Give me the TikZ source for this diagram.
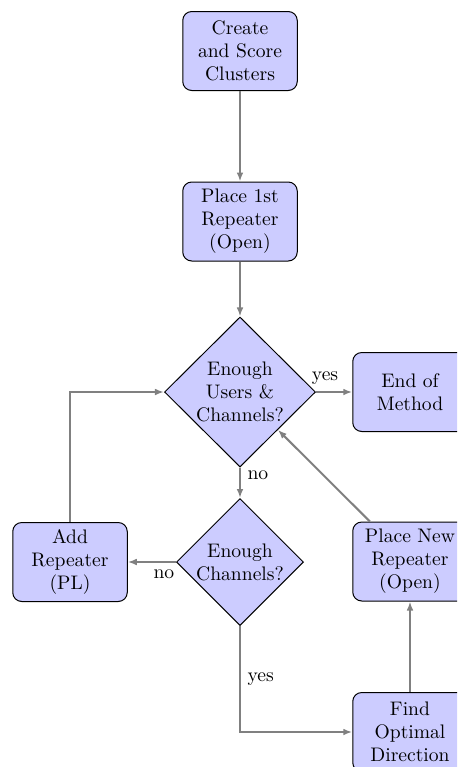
\documentclass[tikz,border=0pt]{standalone}
\usetikzlibrary{shapes.geometric,arrows.meta}
\begin{document}
\begin{tikzpicture}[
  x=0.5pt, y=-0.5pt,
  font=\fontsize{9.8pt}{11.5pt}\selectfont,
  block/.style={rectangle, draw=black, line width=0.5pt, fill=blue!20,
    rounded corners=4.5pt, align=center, inner sep=0pt,
    minimum width=57.25pt, minimum height=39.5pt},
  decision/.style={diamond, draw=black, line width=0.5pt, fill=blue!20,
    align=center, inner sep=-6pt},
  bigdec/.style={decision, minimum width=75.5pt, minimum height=75pt},
  smalldec/.style={decision, minimum width=63.5pt, minimum height=63.5pt},
  link/.style={draw=gray, line width=1pt, -{Latex[length=4.5pt,width=3.4pt]}},
  lbl/.style={inner sep=3.3pt}
]
\useasboundingbox (0,0) rectangle (457,767);
\clip (0,0) rectangle (457,767);

% process boxes and decisions
\node[block] (create) at (240,51) {Create\\and Score\\Clusters};
\node[block] (first)  at (240,221.5) {Place 1st\\Repeater\\(Open)};
\node[bigdec] (enough) at (240,392) {Enough\\Users \&\\Channels?};
\node[block] (stop)   at (410,392) {End of\\Method};
\node[smalldec] (chan) at (240,562) {Enough\\Channels?};
\node[block] (addrep) at (70,562) {Add\\Repeater\\(PL)};
\node[block] (newrep) at (410,561.5) {Place New\\Repeater\\(Open)};
\node[block] (finddir) at (410,732) {Find\\Optimal\\Direction};

% connectors
\path[link] (create) -- (first);
\path[link] (first) -- (enough);
\path[link] (enough) -- node[lbl, above, pos=0.25] {yes} (stop);
\path[link] (enough) -- node[lbl, right, pos=0.25] {no} (chan);
\path[link] (chan) -- node[lbl, below, pos=0.25] {no} (addrep);
\path[link] (chan) |- node[lbl, right, pos=0.25] {yes} (finddir);
\path[link] (finddir) -- (newrep);
\path[link] (newrep) -- (enough);
\path[link] (addrep) |- (enough);
\end{tikzpicture}
\end{document}
